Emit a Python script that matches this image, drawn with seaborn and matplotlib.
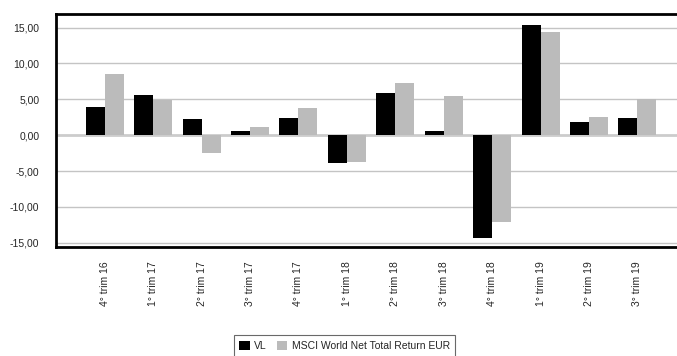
import matplotlib
matplotlib.use("Agg")
import matplotlib.pyplot as plt
import seaborn as sns
import pandas as pd

categories = ["4° trim 16", "1° trim 17", "2° trim 17", "3° trim 17", "4° trim 17",
              "1° trim 18", "2° trim 18", "3° trim 18", "4° trim 18", "1° trim 19",
              "2° trim 19", "3° trim 19"]
vl = [3.9, 5.55, 2.2, 0.55, 2.35, -3.9, 5.85, 0.55, -14.3, 15.4, 1.8, 2.35]
msci = [8.5, 4.95, -2.5, 1.1, 3.75, -3.75, 7.2, 5.4, -12.1, 14.4, 2.5, 5.0]
series_names = ["VL", "MSCI World Net Total Return EUR"]
y_ticks = [-15, -10, -5, 0, 5, 10, 15]

df = pd.DataFrame({
    "cat": categories * 2,
    "val": vl + msci,
    "serie": [series_names[0]] * len(categories) + [series_names[1]] * len(categories),
})

sns.set_style("white")
plt.rcParams["font.family"] = ["Liberation Sans", "DejaVu Sans"]

fig = plt.figure(figsize=(6.77, 3.56), dpi=100)
ax = fig.add_axes([0.0827, 0.306, 0.9173, 0.655])

for t in y_ticks:
    if t != 0:
        ax.axhline(t, color="#c4c4c4", lw=1.0, zorder=0)
ax.axhline(0, color="#cccccc", lw=2.0, zorder=0)

sns.barplot(data=df, x="cat", y="val", hue="serie", ax=ax,
            palette=["#000000", "#bbbbbb"], width=0.785, saturation=1,
            linewidth=0, edgecolor="none", legend=True)

ax.set_xlim(-1.01, 11.82)
ax.set_ylim(-15.6, 16.9)
ax.set_yticks(y_ticks)
ax.set_yticklabels([f"{t:.2f}".replace(".", ",") for t in y_ticks])
ax.set_xlabel("")
ax.set_ylabel("")
ax.tick_params(axis="y", length=0, pad=12, labelsize=7.5)
ax.tick_params(axis="x", length=0, pad=10, labelsize=7.5, labelrotation=90)

for s in ["left", "top", "bottom"]:
    ax.spines[s].set_visible(True)
    ax.spines[s].set_color("black")
    ax.spines[s].set_linewidth(2.0)
ax.spines["right"].set_visible(False)

handles, labels = ax.get_legend_handles_labels()
ax.get_legend().remove()
leg = fig.legend(handles, labels, loc="upper center", bbox_to_anchor=(0.509, 0.059),
                 borderaxespad=0, ncol=2, fontsize=7.5, frameon=True, fancybox=False,
                 handlelength=1.0, handleheight=1.0, handletextpad=0.4,
                 columnspacing=1.0, borderpad=0.55)
leg.get_frame().set_edgecolor("#444444")
leg.get_frame().set_linewidth(0.8)

fig.savefig("out.png", dpi=100)
